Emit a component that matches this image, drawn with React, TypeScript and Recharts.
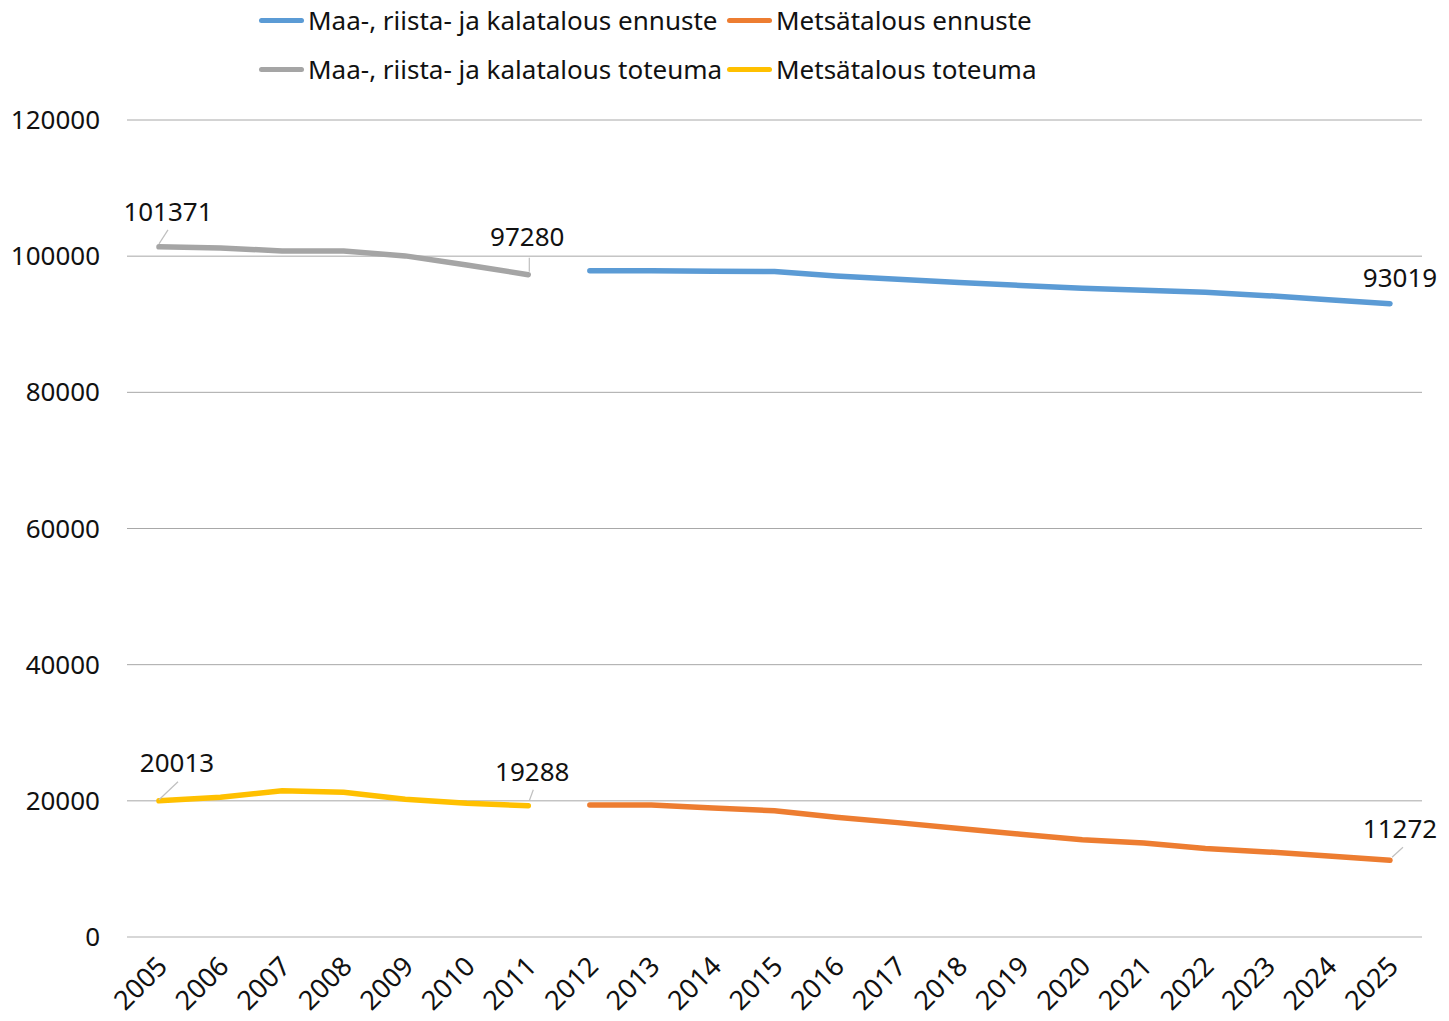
import React from "react";
import { LineChart, Line, XAxis, YAxis, CartesianGrid, LabelList } from "recharts";

const years = [
  "2005", "2006", "2007", "2008", "2009", "2010", "2011", "2012", "2013", "2014", "2015",
  "2016", "2017", "2018", "2019", "2020", "2021", "2022", "2023", "2024", "2025",
];

const maaToteuma = [101371, 101200, 100770, 100770, 100040, 98700, 97280,
  null, null, null, null, null, null, null, null, null, null, null, null, null, null];
const metsaToteuma = [20013, 20520, 21480, 21250, 20220, 19640, 19288,
  null, null, null, null, null, null, null, null, null, null, null, null, null, null];
const maaEnnuste = [null, null, null, null, null, null, null,
  97850, 97850, 97800, 97750, 97100, 96600, 96150, 95700, 95300, 95000, 94700, 94200, 93600, 93019];
const metsaEnnuste = [null, null, null, null, null, null, null,
  19400, 19400, 18950, 18550, 17600, 16800, 15950, 15100, 14300, 13800, 13000, 12500, 11900, 11272];

const yTicks = [0, 20000, 40000, 60000, 80000, 100000, 120000];

const data = years.map((year, i) => ({
  year,
  maaEnnuste: maaEnnuste[i],
  metsaEnnuste: metsaEnnuste[i],
  maaToteuma: maaToteuma[i],
  metsaToteuma: metsaToteuma[i],
}));

const FONT = "'Noto Sans', 'Open Sans', sans-serif";
const TEXT = "#111";

const legendItems = [
  { name: "Maa-, riista- ja kalatalous ennuste", color: "#5b9bd5" },
  { name: "Metsätalous ennuste", color: "#ed7d31" },
  { name: "Maa-, riista- ja kalatalous toteuma", color: "#a5a5a5" },
  { name: "Metsätalous toteuma", color: "#ffc000" },
];

// label offsets: [dx, dy, leader start dx/dy, leader end dx/dy]
type Off = { dx: number; dy: number; leader?: [number, number, number, number] };
const labelOffsets: Record<string, Record<string, Off>> = {
  maaToteuma: {
    first: { dx: 9, dy: -26, leader: [0, -3, 9, -17] },
    last: { dx: -1, dy: -29, leader: [1, -3, 1, -17] },
  },
  metsaToteuma: {
    first: { dx: 18, dy: -29, leader: [0, -1, 19, -19] },
    last: { dx: 4, dy: -25, leader: [1, -5, 5, -16] },
  },
  maaEnnuste: {
    last: { dx: 10, dy: -17 },
  },
  metsaEnnuste: {
    last: { dx: 10, dy: -22, leader: [2, -3, 13, -13] },
  },
};

function edgeIndex(arr: (number | null)[]) {
  let first = -1;
  let last = -1;
  arr.forEach((v, i) => {
    if (v != null) {
      if (first < 0) first = i;
      last = i;
    }
  });
  return { first, last };
}

const makeLabel = (key: string, arr: (number | null)[]) => {
  const { first, last } = edgeIndex(arr);
  return (props: any) => {
    const { x, y, index, value } = props;
    let which = "";
    if (index === first) which = "first";
    else if (index === last) which = "last";
    const off = labelOffsets[key][which];
    if (!off || value == null) return null;
    return (
      <g>
        {off.leader && (
          <line
            x1={x + off.leader[0]}
            y1={y + off.leader[1]}
            x2={x + off.leader[2]}
            y2={y + off.leader[3]}
            stroke="#bfbfbf"
            strokeWidth={1.2}
          />
        )}
        <text x={x + off.dx} y={y + off.dy} textAnchor="middle" fontSize={26} fontFamily={FONT} fill={TEXT}>
          {value}
        </text>
      </g>
    );
  };
};

const XTick = (props: any) => {
  const { x, y, payload } = props;
  const ax = x + 10;
  const ay = y + 23;
  return (
    <text
      x={ax}
      y={ay}
      transform={`rotate(-45, ${ax}, ${ay})`}
      textAnchor="end"
      fontSize={27}
      fontFamily={FONT}
      fill={TEXT}
    >
      {payload.value}
    </text>
  );
};

const YTick = (props: any) => {
  const { y, payload } = props;
  return (
    <text x={100} y={y} dy={9} textAnchor="end" fontSize={26} fontFamily={FONT} fill={TEXT}>
      {payload.value}
    </text>
  );
};

function ChartLegend() {
  return (
    <div
      style={{
        position: "absolute",
        left: 259,
        top: 2,
        display: "grid",
        gridTemplateColumns: "468px auto",
        rowGap: 13,
        fontFamily: FONT,
        fontSize: 26,
        color: TEXT,
        lineHeight: "36px",
      }}
    >
      {legendItems.map((it) => (
        <div key={it.name} style={{ display: "flex", alignItems: "center", whiteSpace: "nowrap" }}>
          <span
            style={{
              display: "inline-block",
              width: 45,
              height: 5,
              borderRadius: 3,
              background: it.color,
              marginRight: 4,
            }}
          />
          {it.name}
        </div>
      ))}
    </div>
  );
}

export default function App() {
  return (
    <div style={{ position: "absolute", left: 0, top: 0, width: 1449, height: 1021, background: "#fff" }}>
      <ChartLegend />
      <LineChart width={1449} height={1021} data={data} margin={{ top: 120, right: 27, left: 0, bottom: 0 }}>
        <CartesianGrid vertical={false} stroke="#a8a8a8" strokeWidth={1} />
        <XAxis
          dataKey="year"
          interval={0}
          padding={{ left: 32, right: 32 }}
          tickLine={false}
          axisLine={{ stroke: "#d9d9d9", strokeWidth: 1.5 }}
          height={84}
          tick={<XTick />}
        />
        <YAxis
          domain={[0, 120000]}
          ticks={yTicks}
          width={127}
          axisLine={false}
          tickLine={false}
          tick={<YTick />}
        />
        <Line dataKey="maaEnnuste" stroke="#5b9bd5" strokeWidth={5.5} strokeLinecap="round" dot={false} isAnimationActive={false}>
          <LabelList dataKey="maaEnnuste" content={makeLabel("maaEnnuste", maaEnnuste)} />
        </Line>
        <Line dataKey="metsaEnnuste" stroke="#ed7d31" strokeWidth={5.5} strokeLinecap="round" dot={false} isAnimationActive={false}>
          <LabelList dataKey="metsaEnnuste" content={makeLabel("metsaEnnuste", metsaEnnuste)} />
        </Line>
        <Line dataKey="maaToteuma" stroke="#a5a5a5" strokeWidth={5.5} strokeLinecap="round" dot={false} isAnimationActive={false}>
          <LabelList dataKey="maaToteuma" content={makeLabel("maaToteuma", maaToteuma)} />
        </Line>
        <Line dataKey="metsaToteuma" stroke="#ffc000" strokeWidth={5.5} strokeLinecap="round" dot={false} isAnimationActive={false}>
          <LabelList dataKey="metsaToteuma" content={makeLabel("metsaToteuma", metsaToteuma)} />
        </Line>
      </LineChart>
    </div>
  );
}
